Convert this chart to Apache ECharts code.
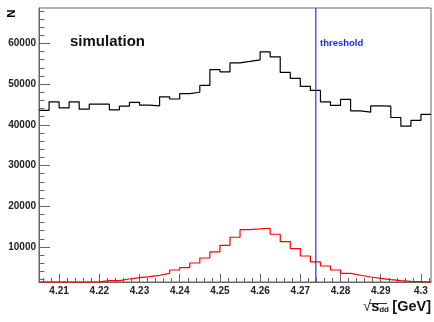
<!DOCTYPE html>
<html><head><meta charset="utf-8">
<script src="https://cdn.jsdelivr.net/npm/echarts@6/dist/echarts.min.js"></script>
<style>html,body{margin:0;padding:0;background:#fff}#c{width:434px;height:322px}</style>
</head><body><div id="c"></div>
<script>
// histogram binning (GeV)
const binLow = 4.205;
const binWidth = 0.0025;
// black histogram: all simulated events
const allEvents = [43540,45650,44170,45650,43850,45080,45080,43690,44590,45500,44840,44670,46880,46350,47660,48000,49680,53570,53020,55240,55580,55970,57940,56710,52880,51400,49440,48450,45650,44760,46240,43440,43120,44670,44590,41810,39680,41080,42550];
// red histogram
const peakEvents = [1400,1400,1400,1400,1400,1450,1745,1745,2140,2480,2730,3050,3540,4350,4940,6070,7300,8780,10420,12390,14280,14430,14600,13130,11330,9610,7790,6320,5330,4350,3540,3050,2630,2310,1990,1750,1570,1480,1420];
const thresholdX = 4.27385;
// axis ticks
const xMajorTicks = [4.21,4.22,4.23,4.24,4.25,4.26,4.27,4.28,4.29,4.3];
const yMajorTicks = [10000,20000,30000,40000,50000,60000];
const xMin = 4.205, xMax = 4.3025, yMin = 1400, yMax = 68700;
const xMinorTicks = []; for (let k = 2103; k <= 2151; k++) xMinorTicks.push(+(k*0.002).toFixed(3));
const yMinorTicks = []; for (let v = 2000; v <= 68000; v += 2000) yMinorTicks.push(v);

function steps(vals){
  const d = vals.map((v,i)=>[binLow + i*binWidth, v]);
  d.push([binLow + vals.length*binWidth, vals[vals.length-1]]);
  return d;
}
const FONT = "'Liberation Sans', Arial, Helvetica, sans-serif";
const axisCol = '#666';
const chart = echarts.init(document.getElementById('c'), null, {renderer:'canvas'});
chart.setOption({
  animation:false,
  backgroundColor:'#fff',
  grid:{left:39, right:2, top:8, bottom:40, show:true, borderColor:axisCol, borderWidth:1},
  title:[
    {text:'simulation', left:70, top:34, padding:0, textStyle:{fontFamily:FONT, fontSize:15, fontWeight:'bold', color:'#111'}},
    {text:'threshold', left:320, top:38.5, padding:0, textStyle:{fontFamily:FONT, fontSize:9.5, fontWeight:'bold', color:'#1f1fff'}}
  ],
  xAxis:[
    {type:'value', min:xMin, max:xMax, position:'bottom',
     axisLine:{show:true, lineStyle:{color:axisCol, width:1}},
     axisTick:{show:true, inside:true, length:8, customValues:xMajorTicks, lineStyle:{color:axisCol}},
     axisLabel:{customValues:xMajorTicks, margin:4, fontFamily:FONT, fontSize:10, fontWeight:'bold', color:'#222', formatter:v=>String(+v.toFixed(2))},
     splitLine:{show:false},
     name:'{r|√}{s|s}{d|dd} {g|[GeV]}', nameLocation:'end', nameGap:0,
     nameTextStyle:{align:'right', verticalAlign:'top', padding:[17,0,0,0], fontFamily:FONT, color:'#111',
       rich:{
         r:{fontSize:15, fontFamily:FONT, color:'#333'},
         s:{fontSize:14.5, fontWeight:'bold', fontFamily:FONT, color:'#111'},
         d:{fontSize:8, fontWeight:'bold', fontFamily:FONT, color:'#111', verticalAlign:'bottom', padding:[6,0,0,0]},
         g:{fontSize:14.5, fontWeight:'bold', fontFamily:FONT, color:'#111'}
       }}},
    {type:'value', min:xMin, max:xMax, position:'bottom',
     axisLine:{show:false},
     axisTick:{show:true, inside:true, length:4, customValues:xMinorTicks, lineStyle:{color:axisCol}},
     axisLabel:{show:false}, splitLine:{show:false}}
  ],
  yAxis:[
    {type:'value', min:yMin, max:yMax, position:'left',
     axisLine:{show:true, lineStyle:{color:axisCol, width:1}},
     axisTick:{show:true, inside:true, length:11, customValues:yMajorTicks, lineStyle:{color:axisCol}},
     axisLabel:{customValues:yMajorTicks, margin:3, fontFamily:FONT, fontSize:10, fontWeight:'bold', color:'#222', formatter:v=>String(Math.round(v))},
     splitLine:{show:false}},
    {type:'value', min:yMin, max:yMax, position:'left',
     axisLine:{show:false},
     axisTick:{show:true, inside:true, length:5.5, customValues:yMinorTicks, lineStyle:{color:axisCol}},
     axisLabel:{show:false}, splitLine:{show:false}}
  ],
  graphic:[
    {type:'text', x:11.5, y:13.5, rotation:Math.PI/2,
     style:{text:'N', fontFamily:FONT, fontSize:11.5, fontWeight:'bold', fill:'#000', align:'center', verticalAlign:'middle'}},
    {type:'line', shape:{x1:369, y1:303.5, x2:387, y2:303.5}, style:{stroke:'#333', lineWidth:1}}
  ],
  series:[
    {type:'line', name:'all', step:'end', xAxisIndex:0, yAxisIndex:0, symbol:'none', data:steps(allEvents),
     lineStyle:{color:'#000', width:1.2}, itemStyle:{color:'#000'}, silent:true, z:2},
    {type:'line', name:'peak', step:'end', xAxisIndex:0, yAxisIndex:0, symbol:'none', data:steps(peakEvents), clip:false,
     lineStyle:{color:'#ff0000', width:1.2}, itemStyle:{color:'#f00'}, silent:true, z:2},
    {type:'line', name:'threshold', xAxisIndex:0, yAxisIndex:0, symbol:'none',
     data:[[thresholdX, yMin],[thresholdX, yMax]],
     lineStyle:{color:'#2a2aff', width:1.2}, itemStyle:{color:'#2a2aff'}, silent:true, z:3}
  ]
});
</script></body></html>
